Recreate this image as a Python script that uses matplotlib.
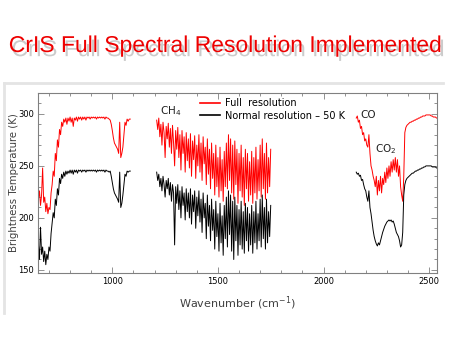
import matplotlib
matplotlib.use('Agg')
import matplotlib.pyplot as plt
import matplotlib.patheffects as pe
from matplotlib.lines import Line2D
from matplotlib.ticker import MultipleLocator
import numpy as np

# band 1 (LW), 5 cm-1 channels starting at 650
lw_start = 650
red_lw = [218, 226, 212, 222, 248, 215, 220, 206, 214, 204,
          210, 208, 224, 232, 245, 240, 262, 255, 275, 268,
          285, 280, 292, 288, 295, 292, 296, 290, 296, 293,
          297, 292, 296, 288, 296, 294, 297, 293, 297, 295,
          297, 294, 297, 295, 297, 294, 297, 296, 297, 295,
          297, 296, 297, 296, 297, 295, 297, 296, 297, 296,
          297, 296, 297, 295, 297, 296, 296, 295, 294, 290,
          284, 277, 272, 270, 268, 266, 262, 292, 258, 262,
          268, 280, 292, 289, 295, 293, 295, 295]
black_lw = [175, 160, 191, 165, 172, 158, 168, 155, 165, 160,
            172, 168, 185, 195, 205, 200, 218, 212, 228, 222,
            238, 233, 242, 238, 244, 240, 245, 242, 245, 243,
            246, 243, 246, 242, 246, 244, 246, 243, 246, 245,
            246, 244, 246, 245, 246, 244, 246, 245, 246, 245,
            246, 245, 246, 245, 246, 244, 246, 245, 246, 245,
            246, 245, 246, 244, 246, 245, 245, 244, 245, 240,
            234, 228, 224, 222, 220, 218, 215, 244, 210, 214,
            222, 232, 242, 240, 245, 244, 245, 245]

# band 2 (MW), 5 cm-1 channels starting at 1210
mw_start = 1210
red_mw = [294, 285, 296, 278, 290, 270, 292, 282, 258, 288,
          276, 291, 268, 286, 262, 289, 272, 250, 284, 266,
          287, 258, 280, 246, 284, 262, 278, 244, 282, 255,
          276, 248, 281, 240, 274, 256, 279, 238, 270, 250,
          280, 244, 272, 236, 278, 252, 268, 232, 276, 242,
          266, 228, 272, 238, 262, 222, 270, 230, 258, 220,
          268, 226, 256, 216, 264, 230, 272, 228, 280, 236,
          276, 224, 270, 218, 274, 232, 266, 214, 262, 226,
          270, 220, 258, 212, 266, 228, 262, 216, 254, 222,
          264, 214, 258, 224, 268, 218, 256, 226, 270, 220,
          276, 228, 262, 218, 272, 224, 258, 230, 266]
black_mw = [244, 236, 242, 230, 238, 226, 240, 232, 220, 236,
            228, 238, 222, 234, 216, 232, 224, 174, 230, 214,
            232, 208, 226, 200, 230, 212, 224, 198, 228, 206,
            224, 200, 228, 194, 222, 206, 226, 190, 220, 202,
            226, 196, 218, 186, 224, 200, 214, 180, 222, 192,
            212, 178, 218, 188, 208, 170, 216, 182, 204, 168,
            214, 176, 202, 164, 212, 180, 220, 172, 226, 184,
            222, 168, 216, 160, 220, 178, 212, 164, 208, 174,
            216, 170, 206, 166, 214, 178, 210, 168, 204, 174,
            212, 166, 206, 176, 216, 170, 204, 178, 218, 172,
            222, 180, 210, 170, 218, 176, 206, 182, 212]

# band 3 (SW), 5 cm-1 channels starting at 2155
sw_start = 2155
red_sw = [296, 298, 292, 294, 286, 288, 280, 282, 274, 276,
          270, 268, 280, 262, 250, 246, 240, 236, 230, 240,
          222, 236, 226, 240, 224, 238, 232, 244, 234, 248,
          238, 250, 240, 254, 244, 256, 246, 258, 244, 256,
          240, 250, 230, 222, 216, 240, 282, 287, 289, 290,
          291, 292, 292, 293, 293, 294, 294, 295, 295, 296,
          296, 297, 297, 298, 298, 298, 299, 299, 299, 299,
          299, 298, 298, 297, 297, 297, 296, 296]
black_sw = [244, 242, 243, 240, 241, 236, 237, 232, 228, 226,
            220, 216, 226, 210, 204, 196, 188, 182, 178, 175,
            173, 176, 174, 178, 182, 186, 189, 192, 194, 196,
            197, 198, 197, 198, 196, 197, 194, 190, 186, 184,
            182, 178, 172, 174, 186, 222, 232, 236, 238, 239,
            240, 241, 242, 243, 243, 244, 245, 245, 246, 246,
            247, 247, 248, 248, 249, 249, 250, 250, 250, 250,
            250, 250, 249, 249, 249, 249, 248, 248]

fig = plt.figure(figsize=(4.5, 3.5), dpi=100)
ax = fig.add_axes([0.0844, 0.22, 0.887, 0.514])

for start, r, b in [(lw_start, red_lw, black_lw), (mw_start, red_mw, black_mw), (sw_start, red_sw, black_sw)]:
    wn = start + 5 * np.arange(len(r))
    ax.plot(wn, r, color='#ff0000', lw=0.7)
    ax.plot(wn, b, color='black', lw=0.7)

ax.set_xlim(648, 2538)
ax.set_ylim(147, 320)
ax.set_xticks([1000, 1500, 2000, 2500])
ax.set_yticks([150, 200, 250, 300])
ax.xaxis.set_minor_locator(MultipleLocator(100))
ax.yaxis.set_minor_locator(MultipleLocator(10))
ax.tick_params(which='both', direction='in', top=True, right=True, color='#808080', labelsize=6, width=0.6)
ax.tick_params(which='major', length=4, pad=3)
ax.tick_params(which='minor', length=2)
for s in ax.spines.values():
    s.set_color('#808080')
    s.set_linewidth(0.8)

ax.set_ylabel('Brightness Temperature (K)', fontsize=7.3, color='#404040')
ax.yaxis.set_label_coords(-0.047, 0.5)
ax.set_xlabel('Wavenumber (cm$^{-1}$)', fontsize=8, color='#404040', labelpad=6)

ax.text(1228, 303, 'CH$_4$', fontsize=7.5, color='#202020', va='center')
ax.text(2175, 299, 'CO', fontsize=7.5, color='#202020', va='center')
ax.text(2245, 266, 'CO$_2$', fontsize=7.5, color='#202020', va='center')

handles = [Line2D([], [], color='#ff0000', lw=1.2), Line2D([], [], color='black', lw=1.2)]
ax.legend(handles, ['Full  resolution', 'Normal resolution \u2013 50 K'], loc='upper left',
          bbox_to_anchor=(0.39, 1.01), frameon=False, fontsize=7, handlelength=2.0,
          handletextpad=0.5, labelspacing=0.25, borderpad=0.2)

# light gray frame around the chart
fig.add_artist(Line2D([0.008, 0.985], [0.763, 0.763], color='#e4e4e4', lw=2))
fig.add_artist(Line2D([0.008, 0.008], [0.763, 0.105], color='#e4e4e4', lw=2))

fig.text(0.5, 0.87, 'CrIS Full Spectral Resolution Implemented', ha='center', va='center',
         fontsize=16.5, color='#ee0000', family=['Liberation Sans', 'DejaVu Sans'],
         path_effects=[pe.SimplePatchShadow(offset=(2, -3), shadow_rgbFace='#999999', alpha=0.5), pe.Normal()])

fig.savefig('out.png', dpi=100)
